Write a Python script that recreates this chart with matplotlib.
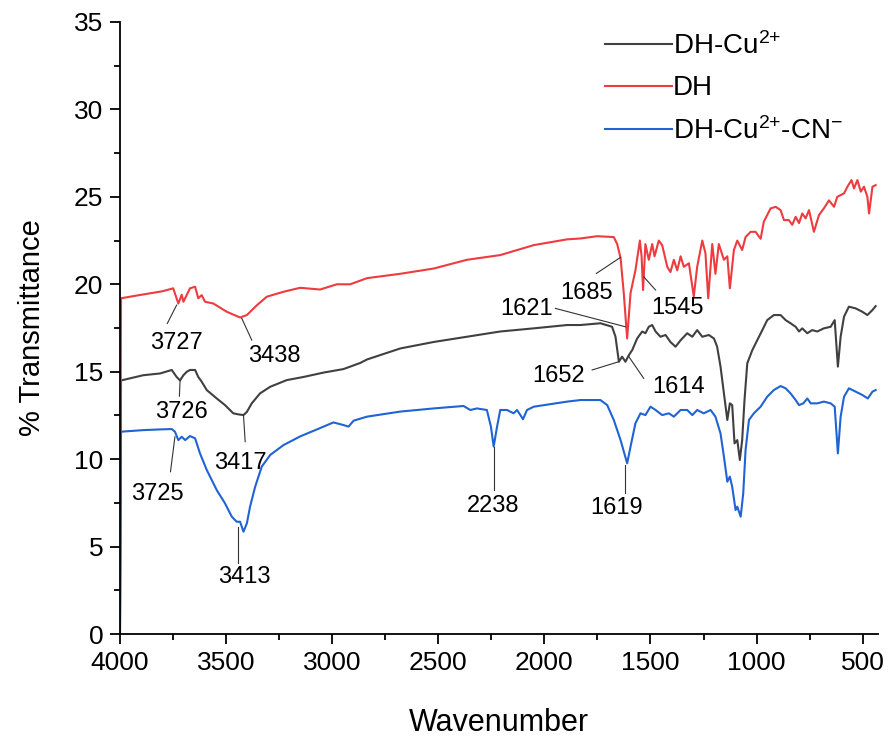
import matplotlib.pyplot as plt
from matplotlib.ticker import MultipleLocator

plt.rcParams["font.family"] = ["Liberation Sans", "DejaVu Sans"]
plt.rcParams["mathtext.fontset"] = "custom"
plt.rcParams["mathtext.rm"] = "Liberation Sans"
plt.rcParams["mathtext.it"] = "Liberation Sans:italic"
plt.rcParams["mathtext.bf"] = "Liberation Sans:bold"

# DH-Cu2+ (gray)
gray_wn = [4000, 3995, 3890, 3811, 3756, 3733, 3717, 3701, 3685, 3670,
           3646, 3631, 3615, 3591, 3544, 3505, 3466, 3442, 3418, 3402,
           3379, 3340, 3292, 3214, 3135, 3041, 2947, 2868, 2836, 2679,
           2522, 2365, 2208, 2050, 1893, 1830, 1736, 1681, 1665, 1649,
           1634, 1618, 1602, 1586, 1563, 1539, 1524, 1508, 1492, 1476,
           1453, 1429, 1406, 1382, 1358, 1327, 1303, 1280, 1256, 1225,
           1201, 1186, 1170, 1154, 1138, 1126, 1115, 1104, 1091, 1079,
           1068, 1057, 1044, 1020, 997, 973, 950, 919, 887, 863,
           840, 816, 800, 785, 761, 738, 714, 683, 651, 632,
           617, 604, 588, 565, 533, 502, 478, 454, 439]
gray_t = [0, 14.5, 14.8, 14.9, 15.1, 14.7, 14.5, 14.8, 15.0, 15.1,
          15.1, 14.7, 14.43, 13.95, 13.47, 13.09, 12.62, 12.56, 12.52, 12.7,
          13.19, 13.76, 14.14, 14.52, 14.7, 14.95, 15.15, 15.5, 15.7, 16.33,
          16.7, 17.0, 17.3, 17.48, 17.67, 17.67, 17.77, 17.57, 17.0, 15.57,
          15.86, 15.57, 15.95, 16.24, 16.9, 17.3, 17.2, 17.57, 17.67, 17.3,
          17.0, 17.1, 16.7, 16.43, 16.8, 17.2, 17.0, 17.38, 17.0, 17.1,
          16.9, 16.43, 15.29, 13.76, 12.24, 13.19, 13.09, 10.9, 11.09, 9.95,
          11.09, 13.38, 15.48, 16.24, 16.8, 17.38, 17.95, 18.24, 18.24, 17.95,
          17.77, 17.57, 17.3, 17.48, 17.2, 17.38, 17.3, 17.48, 17.57, 17.95,
          15.29, 17.0, 18.15, 18.72, 18.62, 18.43, 18.24, 18.53, 18.75]

# DH (red)
red_wn = [4000, 3995, 3900, 3800, 3749, 3725, 3709, 3701, 3670, 3646,
          3631, 3615, 3599, 3560, 3497, 3434, 3402, 3355, 3308, 3230,
          3151, 3057, 2978, 2915, 2836, 2679, 2522, 2365, 2208, 2050,
          1893, 1830, 1751, 1673, 1657, 1641, 1626, 1610, 1594, 1571,
          1550, 1542, 1535, 1524, 1508, 1492, 1481, 1461, 1445, 1421,
          1406, 1390, 1374, 1358, 1343, 1319, 1296, 1280, 1256, 1241,
          1228, 1209, 1194, 1178, 1154, 1138, 1126, 1107, 1091, 1068,
          1052, 1028, 1005, 981, 966, 934, 910, 887, 871, 848,
          832, 816, 800, 785, 769, 753, 730, 706, 683, 659,
          635, 620, 588, 572, 553, 541, 525, 509, 494, 478,
          470, 454, 439]
red_t = [0, 19.2, 19.4, 19.6, 19.77, 18.9, 19.4, 19.0, 19.77, 19.86,
         19.2, 19.38, 19.0, 18.9, 18.43, 18.1, 18.24, 18.8, 19.29, 19.57,
         19.8, 19.7, 20.0, 20.0, 20.35, 20.6, 20.9, 21.4, 21.67, 22.24,
         22.57, 22.62, 22.75, 22.7, 22.3, 21.5, 19.5, 16.9, 19.5, 20.8,
         22.5, 21.6, 19.67, 22.3, 21.4, 22.3, 21.6, 22.5, 22.24, 21.0,
         20.7, 21.4, 20.8, 21.6, 21.0, 21.2, 19.3, 21.0, 22.5, 21.77,
         19.2, 22.3, 20.6, 22.3, 21.4, 21.6, 19.77, 21.96, 22.5, 21.96,
         22.7, 23.0, 23.0, 22.6, 23.58, 24.34, 24.43, 24.24, 23.67, 23.67,
         23.4, 23.86, 23.5, 24.05, 23.77, 24.24, 23.0, 23.96, 24.34, 24.8,
         24.43, 25.0, 25.2, 25.58, 25.96, 25.48, 25.96, 25.3, 25.58, 25.0,
         24.05, 25.58, 25.67]

# DH-Cu2+-CN- (blue)
blue_wn = [4000, 3995, 3890, 3811, 3756, 3741, 3725, 3709, 3693, 3670,
           3646, 3623, 3591, 3544, 3505, 3473, 3450, 3434, 3418, 3402,
           3387, 3363, 3332, 3292, 3230, 3151, 3072, 2994, 2947, 2923,
           2899, 2836, 2679, 2522, 2381, 2349, 2318, 2271, 2252, 2239,
           2223, 2208, 2176, 2145, 2129, 2113, 2101, 2082, 2050, 1893,
           1830, 1736, 1704, 1673, 1641, 1610, 1594, 1571, 1547, 1524,
           1500, 1476, 1445, 1413, 1390, 1358, 1327, 1303, 1280, 1249,
           1217, 1194, 1170, 1154, 1138, 1126, 1115, 1099, 1091, 1075,
           1063, 1052, 1036, 1013, 981, 950, 919, 887, 863, 840,
           816, 800, 780, 761, 745, 714, 683, 651, 632, 617,
           604, 588, 565, 533, 502, 476, 454, 439]
blue_t = [0, 11.57, 11.66, 11.7, 11.72, 11.57, 11.09, 11.28, 11.09, 11.32,
          11.19, 10.33, 9.38, 8.23, 7.47, 6.71, 6.42, 6.42, 5.85, 6.33,
          7.28, 8.42, 9.57, 10.24, 10.8, 11.3, 11.7, 12.1, 11.95, 11.86,
          12.2, 12.43, 12.72, 12.9, 13.04, 12.81, 12.9, 12.81, 11.86, 10.72,
          11.86, 12.81, 12.81, 12.62, 12.81, 12.52, 12.28, 12.81, 13.0, 13.29,
          13.38, 13.38, 13.09, 12.24, 11.09, 9.76, 10.72, 12.05, 12.62, 12.52,
          13.0, 12.81, 12.52, 12.62, 12.43, 12.81, 12.81, 12.52, 12.81, 12.62,
          12.81, 12.43, 11.47, 10.14, 8.71, 9.0, 8.42, 7.09, 7.28, 6.71,
          8.04, 10.52, 12.24, 12.62, 13.0, 13.57, 13.95, 14.18, 14.05, 13.76,
          13.38, 13.09, 13.19, 13.47, 13.19, 13.19, 13.29, 13.19, 13.0, 10.33,
          12.43, 13.57, 14.05, 13.86, 13.67, 13.47, 13.86, 13.95]

series_labels = ["DH-Cu$^{2{+}}$", "DH", "DH-Cu$^{2{+}}$-CN$^{{-}}$"]

# peak labels: text, line start, line end, text position (wavenumber, %T)
peak_labels = [
    ("3727", (3733, 18.81), (3777, 17.76), (3736, 16.64)),
    ("3438", (3426, 18.05), (3379, 16.81), (3274, 15.92)),
    ("3726", (3717, 14.45), (3720, 13.6), (3709, 12.68)),
    ("3417", (3418, 12.52), (3410, 11.0), (3434, 9.8)),
    ("3725", (3741, 11.28), (3762, 9.28), (3823, 7.99)),
    ("3413", (3442, 6.1), (3442, 4.05), (3414, 3.28)),
    ("2238", (2239, 10.7), (2239, 8.23), (2243, 7.33)),
    ("1619", (1618, 9.66), (1618, 8.04), (1661, 7.23)),
    ("1614", (1602, 15.86), (1532, 14.62), (1370, 14.14)),
    ("1652", (1650, 15.57), (1775, 15.1), (1933, 14.76)),
    ("1621", (1618, 17.57), (1948, 18.62), (2086, 18.6)),
    ("1685", (1641, 21.54), (1755, 20.62), (1803, 19.53)),
    ("1545", (1532, 20.43), (1476, 19.67), (1374, 18.62)),
]

fig = plt.figure(figsize=(8.9, 7.43), dpi=100, facecolor="white")
ax = fig.add_axes([0.1348, 0.1467, 0.8517, 0.8237])

ax.plot(gray_wn, gray_t, color="#404040", linewidth=1.5, label=series_labels[0])
ax.plot(red_wn, red_t, color="#EE3B3F", linewidth=1.5, label=series_labels[1])
ax.plot(blue_wn, blue_t, color="#1F63D4", linewidth=1.5, label=series_labels[2])

for text, p0, p1, pt in peak_labels:
    ax.plot([p0[0], p1[0]], [p0[1], p1[1]], color="#333333", linewidth=0.8)
    ax.text(pt[0], pt[1], text, fontsize=17, ha="center", va="center")

ax.set_xlim(4000, 428)
ax.set_ylim(0, 35)
ax.xaxis.set_major_locator(MultipleLocator(500))
ax.xaxis.set_minor_locator(MultipleLocator(250))
ax.yaxis.set_major_locator(MultipleLocator(5))
ax.yaxis.set_minor_locator(MultipleLocator(2.5))
ax.tick_params(which="major", direction="out", length=7, width=1.3,
               labelsize=19, pad=5)
ax.tick_params(which="minor", direction="out", length=4, width=1.3)

for side in ["top", "right"]:
    ax.spines[side].set_visible(False)
for side in ["left", "bottom"]:
    ax.spines[side].set_linewidth(1.3)

ax.set_xlabel("Wavenumber", fontsize=22, labelpad=24)
ax.set_ylabel("% Transmittance", fontsize=21, labelpad=20)

ax.legend(loc="upper left", bbox_to_anchor=(0.64, 0.983), frameon=False,
          fontsize=20, handlelength=2.4, handletextpad=0.05,
          labelspacing=0.55, borderpad=0, borderaxespad=0)

plt.savefig("out.png", dpi=100, facecolor="white")
